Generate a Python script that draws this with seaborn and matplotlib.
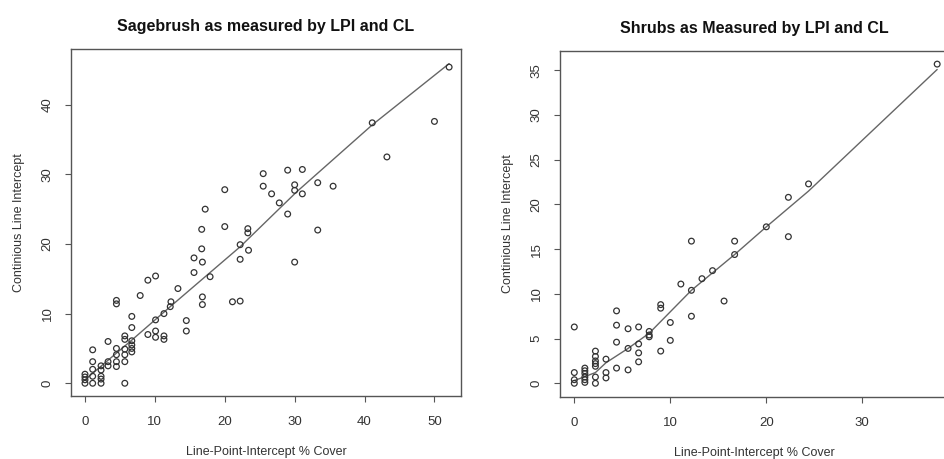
import matplotlib
matplotlib.use("Agg")
import matplotlib.pyplot as plt
import seaborn as sns
import pandas as pd

# ---- data ----
sage_lpi = [52.1, 41.1, 50.0, 43.2, 25.5, 29.0, 31.1, 25.5, 30.0, 33.3, 35.5, 26.7, 30.0, 31.1,
            27.8, 29.0, 20.0, 17.2, 20.0, 23.3, 23.3, 33.3, 16.7, 16.7, 22.2, 23.4, 15.6, 16.8,
            22.2, 30.0, 15.6, 17.9, 9.0, 10.1, 13.3, 7.9, 4.5, 4.5, 12.3, 12.2, 16.8, 16.8, 21.1,
            22.2, 11.3, 10.1, 14.5, 14.5, 6.7, 6.7, 9.0, 10.1, 10.1, 11.3, 11.3, 5.7, 5.7, 6.7,
            3.3, 6.7, 6.7, 6.7, 5.7, 5.7, 5.7, 4.5, 4.5, 4.5, 4.5, 1.1, 1.1, 1.1, 2.3, 3.3, 3.3,
            2.3, 2.3, 2.3, 1.1, 1.1, 0.0, 0.0, 0.0, 0.0, 5.7, 2.3]
sage_cl = [45.4, 37.4, 37.6, 32.5, 30.1, 30.6, 30.7, 28.3, 28.5, 28.8, 28.3, 27.2, 27.7, 27.2,
           25.9, 24.3, 27.8, 25.0, 22.5, 22.2, 21.6, 22.0, 22.1, 19.3, 19.9, 19.1, 18.0, 17.4,
           17.8, 17.4, 15.9, 15.3, 14.8, 15.4, 13.6, 12.6, 11.9, 11.4, 11.7, 11.0, 12.4, 11.3, 11.7,
           11.8, 10.0, 9.1, 9.0, 7.5, 9.6, 8.0, 7.0, 7.5, 6.6, 6.8, 6.3, 6.8, 6.3, 6.1,
           6.0, 5.5, 5.0, 4.5, 4.9, 4.1, 3.1, 5.0, 4.1, 3.1, 2.4, 4.8, 3.1, 2.0, 2.5, 3.1, 2.5,
           1.0, 0.6, 0.0, 1.0, 0.0, 1.3, 0.9, 0.5, 0.0, 0.0, 1.9]
sage_fit_x = [0.0, 6.7, 12.2, 22.2, 30.3, 41.1, 52.1]
sage_fit_y = [0.5, 6.2, 11.0, 19.6, 27.5, 37.1, 45.9]

shrub_lpi = [37.8, 24.4, 22.3, 22.3, 20.0, 16.7, 16.7, 12.2, 14.4, 13.3, 11.1, 12.2, 15.6, 12.2,
             9.0, 9.0, 10.0, 10.0, 9.0, 4.4, 4.4, 4.4, 4.4, 5.6, 5.6, 5.6, 6.7, 6.7, 6.7, 6.7,
             7.8, 7.8, 7.8, 0.0, 0.0, 0.0, 0.0, 3.3, 3.3, 3.3, 2.2, 2.2, 2.2, 2.2, 2.2, 2.2,
             1.1, 1.1, 1.1, 1.1, 1.1, 1.1, 2.2]
shrub_cl = [35.7, 22.3, 20.8, 16.4, 17.5, 15.9, 14.4, 15.9, 12.6, 11.7, 11.1, 10.4, 9.2, 7.5,
            8.8, 8.4, 6.8, 4.8, 3.6, 8.1, 6.5, 4.6, 1.7, 6.1, 3.9, 1.5, 6.3, 4.4, 3.4, 2.4,
            5.8, 5.4, 5.2, 6.3, 1.2, 0.4, 0.0, 2.7, 1.2, 0.6, 3.6, 2.5, 2.2, 1.9, 0.7, 0.0,
            1.7, 1.4, 1.1, 0.7, 0.4, 0.1, 3.0]
shrub_fit_x = [0.0, 2.2, 3.3, 5.6, 7.8, 12.2, 16.7, 20.0, 24.4, 37.8]
shrub_fit_y = [0.3, 1.2, 2.3, 3.9, 5.6, 10.4, 14.4, 17.5, 21.5, 35.1]

titles = ["Sagebrush as measured by LPI and CL", "Shrubs as Measured by LPI and CL"]
xlabel = "Line-Point-Intercept % Cover"
ylabel = "Continious Line Intercept"
sage_xticks = [0, 10, 20, 30, 40, 50]
sage_yticks = [0, 10, 20, 30, 40]
shrub_xticks = [0, 10, 20, 30]
shrub_yticks = [0, 5, 10, 15, 20, 25, 30, 35]

# ---- style ----
sns.set_style("ticks")
plt.rcParams["font.family"] = ["Liberation Sans", "DejaVu Sans"]

W, H = 944, 459
fig = plt.figure(figsize=(W / 100, H / 100), dpi=100)
fig.patch.set_facecolor("white")

def px_axes(x0, x1, ytop, ybot):
    return fig.add_axes([x0 / W, 1 - ybot / H, (x1 - x0) / W, (ybot - ytop) / H])

ax1 = px_axes(71, 461, 49, 396)
ax2 = px_axes(560, 948.7, 50.7, 396.7)

panels = [
    (ax1, sage_lpi, sage_cl, sage_fit_x, sage_fit_y, sage_xticks, sage_yticks, (-2.0, 53.8), (-1.83, 48.0)),
    (ax2, shrub_lpi, shrub_cl, shrub_fit_x, shrub_fit_y, shrub_xticks, shrub_yticks, (-1.49, 39.0), (-1.5, 37.2)),
]

for i, (ax, xs, ys, fx, fy, xt, yt, xl, yl) in enumerate(panels):
    df = pd.DataFrame({"lpi": xs, "cl": ys})
    fit = pd.DataFrame({"lpi": fx, "cl": fy})
    sns.lineplot(data=fit, x="lpi", y="cl", ax=ax, color="#666666", linewidth=1.0,
                 sort=False, estimator=None)
    sns.scatterplot(data=df, x="lpi", y="cl", ax=ax, marker="o", s=17,
                    facecolors="none", edgecolor="#333333", linewidth=0.9, zorder=3)
    ax.set_xlim(*xl)
    ax.set_ylim(*yl)
    ax.set_xticks(xt)
    ax.set_yticks(yt)
    ax.set_xticklabels([str(v) for v in xt])
    ax.set_yticklabels([str(v) for v in yt], rotation=90, va="center")
    for sp in ax.spines.values():
        sp.set_visible(True)
        sp.set_color("#555555")
        sp.set_linewidth(1.0)
    ax.tick_params(axis="both", direction="out", length=4.5, width=0.8, color="#555555",
                   labelsize=9.5, labelcolor="#333333")
    ax.tick_params(axis="x", pad=10)
    ax.tick_params(axis="y", pad=8)
    ax.set_xlabel(xlabel, fontsize=9, color="#333333", labelpad=13)
    ax.set_ylabel(ylabel, fontsize=9, color="#333333", labelpad=12)
    ax.set_title(titles[i], fontsize=11.5, fontweight="bold", color="#111111", pad=13)
    ax.grid(False)

fig.savefig("out.png", dpi=100, facecolor="white")
